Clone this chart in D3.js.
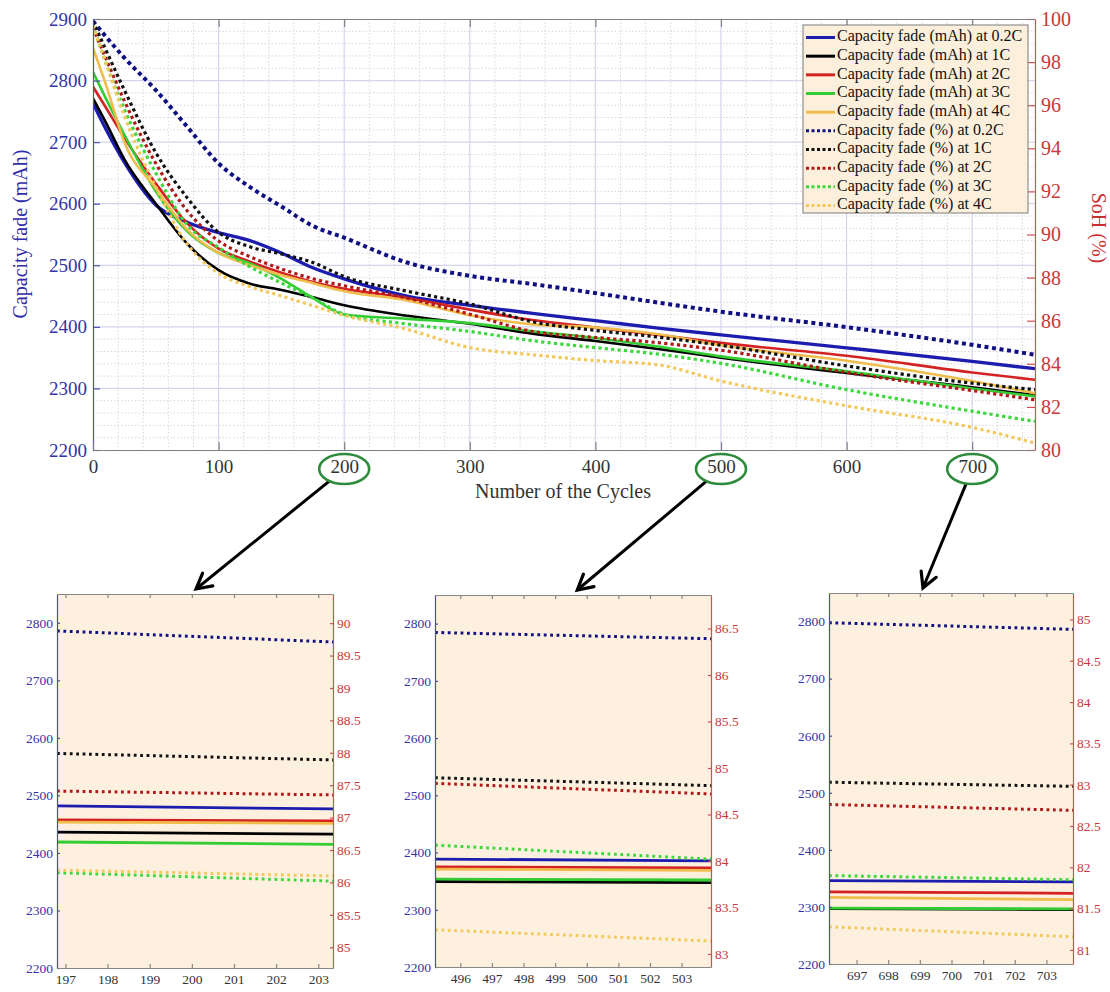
<!DOCTYPE html>
<html>
<head>
<meta charset="utf-8">
<script src="https://cdnjs.cloudflare.com/ajax/libs/d3/7.8.5/d3.min.js"></script>
<style>
body { margin: 0; background: #fff; }
svg text { font-family: "Liberation Serif", "Times New Roman", serif; }
</style>
</head>
<body>
<div id="chart"></div>
<script>
// ---- data ----
var cycles = [0, 10, 25, 50, 75, 100, 125, 150, 175, 200, 250, 300, 350, 400, 450, 500, 600, 700, 750];

// capacity (mAh), left axis
var mAh02C = [2763, 2722, 2667, 2598, 2570, 2553, 2540, 2520, 2496, 2478, 2450, 2435, 2422, 2410, 2398, 2387, 2366, 2344, 2332];
var mAh1C  = [2771, 2733, 2672, 2600, 2535, 2492, 2470, 2460, 2448, 2435, 2418, 2405, 2389, 2377, 2364, 2350, 2325, 2302, 2289];
var mAh2C  = [2790, 2757, 2707, 2633, 2568, 2527, 2506, 2488, 2473, 2462, 2447, 2428, 2411, 2399, 2387, 2374, 2353, 2326, 2314];
var mAh3C  = [2814, 2772, 2712, 2620, 2555, 2520, 2503, 2478, 2447, 2420, 2413, 2406, 2393, 2382, 2368, 2352, 2328, 2300, 2287];
var mAh4C  = [2853, 2795, 2700, 2625, 2558, 2520, 2500, 2484, 2471, 2458, 2443, 2419, 2404, 2399, 2388, 2370, 2345, 2312, 2292];

// state of health (%), right axis
var soh02C = [99.9, 99.2, 98.2, 96.7, 95.0, 93.3, 92.2, 91.3, 90.4, 89.85, 88.7, 88.08, 87.7, 87.28, 86.84, 86.42, 85.7, 84.88, 84.42];
var soh1C  = [99.9, 98.6, 96.7, 93.8, 91.7, 90.1, 89.43, 89.1, 88.7, 88.05, 87.37, 86.78, 85.95, 85.55, 85.24, 84.86, 83.9, 83.1, 82.8];
var soh2C  = [99.6, 98.2, 96.2, 93.3, 91.1, 89.7, 88.97, 88.4, 87.95, 87.62, 87.05, 86.3, 85.5, 85.22, 84.98, 84.63, 83.6, 82.76, 82.33];
var soh3C  = [99.7, 98.0, 95.8, 92.85, 90.45, 89.4, 88.5, 87.75, 87.05, 86.3, 85.85, 85.5, 85.07, 84.75, 84.45, 84.02, 82.8, 81.8, 81.33];
var soh4C  = [99.7, 98.0, 95.5, 92.2, 89.55, 88.2, 87.58, 87.15, 86.7, 86.25, 85.6, 84.75, 84.42, 84.15, 83.95, 83.2, 82.05, 81.05, 80.32];

var seriesLabels = [
    "Capacity fade (mAh) at 0.2C", "Capacity fade (mAh) at 1C", "Capacity fade (mAh) at 2C",
    "Capacity fade (mAh) at 3C", "Capacity fade (mAh) at 4C",
    "Capacity fade (%) at 0.2C", "Capacity fade (%) at 1C", "Capacity fade (%) at 2C",
    "Capacity fade (%) at 3C", "Capacity fade (%) at 4C"
];
var seriesValues = [mAh02C, mAh1C, mAh2C, mAh3C, mAh4C, soh02C, soh1C, soh2C, soh3C, soh4C];

var xTicks = [0, 100, 200, 300, 400, 500, 600, 700];
var mAhTicks = [2200, 2300, 2400, 2500, 2600, 2700, 2800, 2900];
var sohTicks = [80, 82, 84, 86, 88, 90, 92, 94, 96, 98, 100];
var markedCycles = [200, 500, 700];

// zoomed panels: each line is read at the left and right edge of the panel
var zoomCycleRanges = [[196.8, 203.35], [495.2, 503.93], [696.13, 703.84]];
var zoomSohRanges = [[84.68, 90.45], [82.86, 86.86], [80.83, 85.32]];
var zoomMahRange = [2200, 2850];
var zoomMahTicks = [2200, 2300, 2400, 2500, 2600, 2700, 2800];
var zoomCycleTicks = [[197, 198, 199, 200, 201, 202, 203], [496, 497, 498, 499, 500, 501, 502, 503], [697, 698, 699, 700, 701, 702, 703]];
var zoomSohTicks = [[85, 85.5, 86, 86.5, 87, 87.5, 88, 88.5, 89, 89.5, 90], [83, 83.5, 84, 84.5, 85, 85.5, 86, 86.5], [81, 81.5, 82, 82.5, 83, 83.5, 84, 84.5, 85]];
var zoom200Start = [2481.7, 2436, 2457.5, 2419, 2453.5, 89.88, 87.99, 87.41, 86.15, 86.19];
var zoom200End   = [2476.5, 2432.5, 2455.5, 2415, 2451.5, 89.71, 87.89, 87.35, 86.02, 86.10];
var zoom500Start = [2388.6, 2349.4, 2375, 2353.6, 2371, 86.457, 84.895, 84.835, 84.17, 83.26];
var zoom500End   = [2385.6, 2347.6, 2373, 2352, 2369, 86.39, 84.81, 84.72, 84.02, 83.14];
var zoom700Start = [2346, 2297, 2326.3, 2298, 2316.8, 84.96, 83.03, 82.76, 81.90, 81.28];
var zoom700End   = [2343.9, 2295.5, 2323.9, 2296.5, 2312.8, 84.88, 82.98, 82.69, 81.85, 81.16];
var zoomArrowAt = [200.1, 499.7, 699.1];

// ---- styles ----
var seriesColors = ["#1c1cae", "#000000", "#d42222", "#33cc33", "#f0bd4c",
                    "#101080", "#111111", "#b01818", "#3cd83c", "#f2c95c"];
var blueText = "#3434a6", redText = "#c83838", greyText = "#333333";

var svg = d3.select("#chart").append("svg")
    .attr("width", 1110)
    .attr("height", 992);

// ---------- main chart ----------
var x = d3.scaleLinear().domain([0, 750]).range([93, 1035]);
var yL = d3.scaleLinear().domain([2200, 2900]).range([450, 19]);
var yR = d3.scaleLinear().domain([80, 100]).range([450, 19]);

var grid = svg.append("g");
d3.range(20, 750, 20).filter(function (d) { return d % 100 !== 0; }).forEach(function (d) {
    grid.append("line").attr("x1", x(d)).attr("x2", x(d)).attr("y1", 19).attr("y2", 450)
        .attr("stroke", "#d6d6e2").attr("stroke-dasharray", "1.5,2");
});
d3.range(2220, 2900, 20).filter(function (d) { return d % 100 !== 0; }).forEach(function (d) {
    grid.append("line").attr("x1", 93).attr("x2", 1035).attr("y1", yL(d)).attr("y2", yL(d))
        .attr("stroke", "#d6d6e2").attr("stroke-dasharray", "1.5,2");
});
xTicks.slice(1).forEach(function (d) {
    grid.append("line").attr("x1", x(d)).attr("x2", x(d)).attr("y1", 19).attr("y2", 450)
        .attr("stroke", "#d4d4ee").attr("stroke-width", 1.2);
});
mAhTicks.slice(1, -1).forEach(function (d) {
    grid.append("line").attr("x1", 93).attr("x2", 1035).attr("y1", yL(d)).attr("y2", yL(d))
        .attr("stroke", "#d4d4ee").attr("stroke-width", 1.2);
});

var plotClip = svg.append("clipPath").attr("id", "mainclip")
    .append("rect").attr("x", 93).attr("y", 17).attr("width", 942).attr("height", 435);

var lines = svg.append("g").attr("clip-path", "url(#mainclip)");
seriesValues.forEach(function (vals, i) {
    var yScale = i < 5 ? yL : yR;
    var line = d3.line()
        .x(function (d, j) { return x(cycles[j]); })
        .y(function (d) { return yScale(d); })
        .curve(d3.curveMonotoneX);
    var p = lines.append("path")
        .datum(vals)
        .attr("d", line)
        .attr("fill", "none")
        .attr("stroke", seriesColors[i]);
    if (i < 5) {
        p.attr("stroke-width", i === 0 ? 3.3 : 2.6);
    } else {
        p.attr("stroke-width", i === 5 ? 4 : 3.2)
         .attr("stroke-dasharray", i === 5 ? "4,3.6" : "3.2,3.2");
    }
});

function styleAxis(g, color, textColor, size) {
    g.select(".domain").attr("stroke", color).attr("stroke-width", 1.2);
    g.selectAll(".tick line").attr("stroke", color).attr("stroke-width", 1.2);
    g.selectAll(".tick text").attr("fill", textColor)
        .style("font-size", size + "px")
        .style("font-family", "'Liberation Serif', serif");
}

var gLeft = svg.append("g").attr("transform", "translate(93,0)")
    .call(d3.axisLeft(yL).tickValues(mAhTicks).tickSizeInner(-7).tickSizeOuter(0).tickPadding(6).tickFormat(d3.format("d")));
styleAxis(gLeft, "#5050b4", blueText, 19);

var gRight = svg.append("g").attr("transform", "translate(1035,0)")
    .call(d3.axisRight(yR).tickValues(sohTicks).tickSizeInner(-8).tickSizeOuter(0).tickPadding(6).tickFormat(d3.format("d")));
styleAxis(gRight, "#d05050", redText, 20);

var gBottom = svg.append("g").attr("transform", "translate(0,450)")
    .call(d3.axisBottom(x).tickValues(xTicks).tickSizeInner(-8).tickSizeOuter(0).tickPadding(10).tickFormat(d3.format("d")));
styleAxis(gBottom, "#808080", greyText, 19);

var gTop = svg.append("g").attr("transform", "translate(0,19)")
    .call(d3.axisTop(x).tickValues(xTicks.slice(1)).tickSizeInner(-8).tickSizeOuter(0).tickFormat(""));
styleAxis(gTop, "#808080", greyText, 19);

svg.append("text")
    .attr("transform", "translate(22,234) rotate(-90)")
    .attr("text-anchor", "middle").attr("dominant-baseline", "middle")
    .attr("fill", "#2e2ea8").style("font-size", "20px")
    .text("Capacity fade (mAh)");

svg.append("text")
    .attr("transform", "translate(1097,228) rotate(90)")
    .attr("text-anchor", "middle").attr("dominant-baseline", "middle")
    .attr("fill", "#c83030").style("font-size", "20px")
    .text("SoH (%)");

svg.append("text")
    .attr("x", (93 + 1035) / 2 - 1).attr("y", 498)
    .attr("text-anchor", "middle")
    .attr("fill", greyText).style("font-size", "20px")
    .text("Number of the Cycles");

// legend
var legend = svg.append("g").attr("transform", "translate(803,25)");
legend.append("rect").attr("width", 225).attr("height", 188)
    .attr("fill", "#fcefdc").attr("stroke", "#7a7a7a").attr("stroke-width", 1);
seriesLabels.forEach(function (label, i) {
    var yy = 12.5 + i * 18.67;
    var l = legend.append("line")
        .attr("x1", 3).attr("x2", 32).attr("y1", yy).attr("y2", yy)
        .attr("stroke", seriesColors[i]);
    if (i < 5) {
        l.attr("stroke-width", 3);
    } else {
        l.attr("stroke-width", 3).attr("stroke-dasharray", "3,2.5");
    }
    legend.append("text")
        .attr("x", 34).attr("y", yy).attr("dominant-baseline", "middle")
        .attr("fill", "#111").style("font-size", "16px")
        .text(label);
});

// ---------- zoomed panels ----------
var panelBoxes = [
    { x0: 57, x1: 333, y0: 594, y1: 968 },
    { x0: 435, x1: 711, y0: 595, y1: 967 },
    { x0: 829, x1: 1073, y0: 593, y1: 964 }
];
var zoomStarts = [zoom200Start, zoom500Start, zoom700Start];
var zoomEnds = [zoom200End, zoom500End, zoom700End];

panelBoxes.forEach(function (box, k) {
    var xs = d3.scaleLinear().domain(zoomCycleRanges[k]).range([box.x0, box.x1]);
    var ysL = d3.scaleLinear().domain(zoomMahRange).range([box.y1, box.y0]);
    var ysR = d3.scaleLinear().domain(zoomSohRanges[k]).range([box.y1, box.y0]);
    var g = svg.append("g");

    g.append("rect").attr("x", box.x0).attr("y", box.y0)
        .attr("width", box.x1 - box.x0).attr("height", box.y1 - box.y0)
        .attr("fill", "#fdf0df");

    seriesLabels.forEach(function (label, i) {
        var yScale = i < 5 ? ysL : ysR;
        var pts = [[zoomCycleRanges[k][0], zoomStarts[k][i]], [zoomCycleRanges[k][1], zoomEnds[k][i]]];
        var p = g.append("path")
            .datum(pts)
            .attr("d", d3.line().x(function (d) { return xs(d[0]); }).y(function (d) { return yScale(d[1]); }))
            .attr("fill", "none")
            .attr("stroke", seriesColors[i]);
        if (i < 5) {
            p.attr("stroke-width", 2.8);
        } else {
            p.attr("stroke-width", 3).attr("stroke-dasharray", "2.8,3.6");
        }
    });

    var fmt = function (d) { return d % 1 ? d.toFixed(1) : String(d); };

    var gl = g.append("g").attr("transform", "translate(" + box.x0 + ",0)")
        .call(d3.axisLeft(ysL).tickValues(zoomMahTicks).tickSizeInner(-3).tickSizeOuter(0).tickPadding(4).tickFormat(d3.format("d")));
    styleAxis(gl, "#4a4ab8", blueText, 13.5);

    var gr = g.append("g").attr("transform", "translate(" + box.x1 + ",0)")
        .call(d3.axisRight(ysR).tickValues(zoomSohTicks[k]).tickSizeInner(-3).tickSizeOuter(0).tickPadding(4).tickFormat(fmt));
    styleAxis(gr, "#d05050", redText, 13.5);

    var gb = g.append("g").attr("transform", "translate(0," + box.y1 + ")")
        .call(d3.axisBottom(xs).tickValues(zoomCycleTicks[k]).tickSizeInner(-4).tickSizeOuter(0).tickPadding(6).tickFormat(d3.format("d")));
    styleAxis(gb, "#888888", greyText, 13.5);

    var gt = g.append("g").attr("transform", "translate(0," + box.y0 + ")")
        .call(d3.axisTop(xs).tickValues(zoomCycleTicks[k]).tickSizeInner(-4).tickSizeOuter(0).tickFormat(""));
    styleAxis(gt, "#888888", greyText, 13.5);

    // arrow from the marked tick to this panel
    var cx = x(markedCycles[k]), cy = 469, rx = 25, ry = 15;
    var tx = xs(zoomArrowAt[k]), ty = box.y0 - 5;
    var dx = tx - cx, dy = ty - cy, len = Math.sqrt(dx * dx + dy * dy);
    dx /= len; dy /= len;
    var t = 1 / Math.sqrt((dx / rx) * (dx / rx) + (dy / ry) * (dy / ry));
    var sx = cx + dx * t, sy = cy + dy * t;
    svg.append("line").attr("x1", sx).attr("y1", sy).attr("x2", tx).attr("y2", ty)
        .attr("stroke", "#000").attr("stroke-width", 3);
    var ang = Math.atan2(ty - sy, tx - sx);
    var w = 17, spread = 0.5;
    var w1 = [tx - w * Math.cos(ang - spread), ty - w * Math.sin(ang - spread)];
    var w2 = [tx - w * Math.cos(ang + spread), ty - w * Math.sin(ang + spread)];
    svg.append("path")
        .attr("d", "M" + w1 + "L" + tx + "," + ty + "L" + w2)
        .attr("fill", "none").attr("stroke", "#000").attr("stroke-width", 3.2)
        .attr("stroke-linejoin", "miter").attr("stroke-linecap", "round");

    svg.append("ellipse").attr("cx", cx).attr("cy", cy).attr("rx", rx).attr("ry", ry)
        .attr("fill", "none").attr("stroke", "#2e8b3c").attr("stroke-width", 2.6);
});
</script>
</body>
</html>
